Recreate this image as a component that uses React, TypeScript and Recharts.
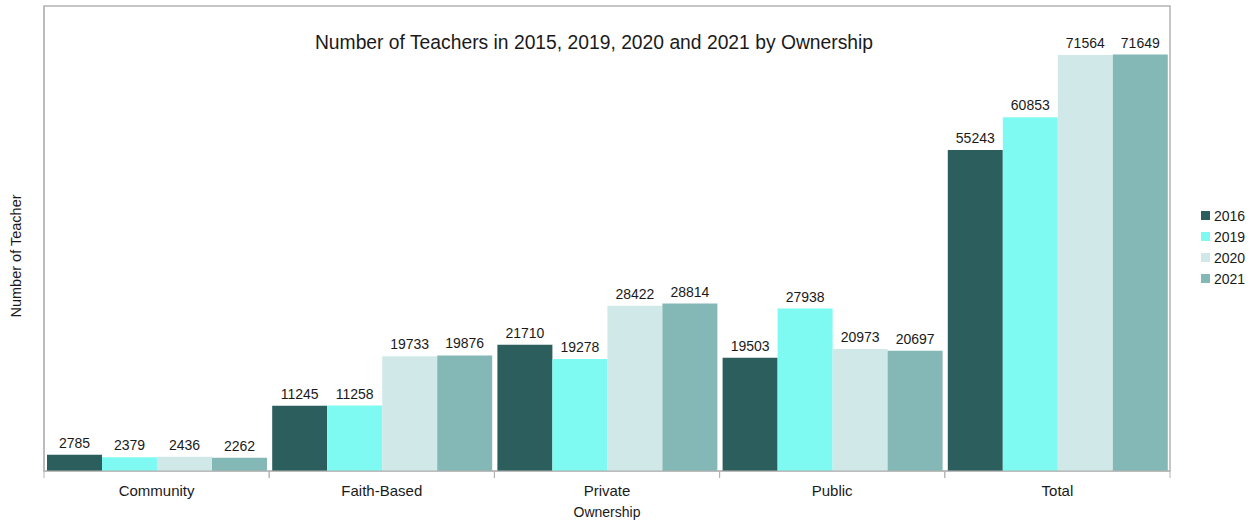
import {
  BarChart,
  Bar,
  XAxis,
  YAxis,
  LabelList,
} from 'recharts';

const categories = ['Community', 'Faith-Based', 'Private', 'Public', 'Total'];
const years = ['2016', '2019', '2020', '2021'];
const teachers2016 = [2785, 11245, 21710, 19503, 55243];
const teachers2019 = [2379, 11258, 19278, 27938, 60853];
const teachers2020 = [2436, 19733, 28422, 20973, 71564];
const teachers2021 = [2262, 19876, 28814, 20697, 71649];

const colors = ['#2b5e5c', '#7ffaf2', '#d1e8e9', '#84b8b6'];

const chartData = categories.map((name, i) => ({
  name,
  y2016: teachers2016[i],
  y2019: teachers2019[i],
  y2020: teachers2020[i],
  y2021: teachers2021[i],
}));

const FONT = '"Liberation Sans", Arial, sans-serif';
const BAND = 1126 / categories.length;

function OwnershipTick(props: any) {
  const { x, payload } = props;
  return (
    <g>
      <line x1={x - BAND / 2} x2={x - BAND / 2} y1={471} y2={478} stroke="#b3b3b3" />
      <line x1={x + BAND / 2} x2={x + BAND / 2} y1={471} y2={478} stroke="#b3b3b3" />
      <text x={x} y={496} textAnchor="middle" fontSize={15} fill="#1a1a1a" fontFamily={FONT}>
        {payload.value}
      </text>
    </g>
  );
}

function YearLegend() {
  return (
    <div
      style={{
        position: 'absolute',
        left: 1201,
        top: 205,
        fontFamily: FONT,
        fontSize: 14,
        color: '#1a1a1a',
      }}
    >
      {years.map((y, i) => (
        <div key={y} style={{ display: 'flex', alignItems: 'center', height: 21 }}>
          <span style={{ width: 9, height: 9, background: colors[i], marginRight: 4 }} />
          {y}
        </div>
      ))}
    </div>
  );
}

export default function App() {
  const keys = ['y2016', 'y2019', 'y2020', 'y2021'];
  return (
    <div style={{ position: 'absolute', left: 0, top: 0, width: 1256, height: 525, background: '#fff' }}>
      <BarChart
        width={1256}
        height={525}
        data={chartData}
        margin={{ top: 6, right: 86, bottom: 14, left: 0 }}
        barCategoryGap={3}
        barGap={0}
      >
        <rect x={44} y={6} width={1126} height={465} fill="none" stroke="#b3b3b3" strokeWidth={1.5} />
        <text x={594} y={49} textAnchor="middle" fontSize={19.3} fill="#1a1a1a" fontFamily={FONT}>
          Number of Teachers in 2015, 2019, 2020 and 2021 by Ownership
        </text>
        <XAxis
          dataKey="name"
          height={40}
          axisLine={{ stroke: '#b3b3b3' }}
          tickLine={false}
          tick={<OwnershipTick />}
          interval={0}
          label={{
            value: 'Ownership',
            position: 'insideBottom',
            offset: -6,
            fontSize: 14,
            fill: '#1a1a1a',
            fontFamily: FONT,
          }}
        />
        <YAxis
          width={44}
          domain={[0, 80000]}
          tick={false}
          tickLine={false}
          axisLine={{ stroke: '#b3b3b3' }}
          label={{
            content: () => (
              <text
                x={21}
                y={256}
                transform="rotate(-90 21 256)"
                textAnchor="middle"
                fontSize={14.5}
                fill="#1a1a1a"
                fontFamily={FONT}
              >
                Number of Teacher
              </text>
            ),
          }}
        />
        {keys.map((k, i) => (
          <Bar key={k} dataKey={k} name={years[i]} fill={colors[i]} isAnimationActive={false}>
            <LabelList
              dataKey={k}
              position="top"
              offset={7}
              fontSize={14}
              fill="#1a1a1a"
              fontFamily={FONT}
            />
          </Bar>
        ))}
      </BarChart>
      <YearLegend />
    </div>
  );
}
